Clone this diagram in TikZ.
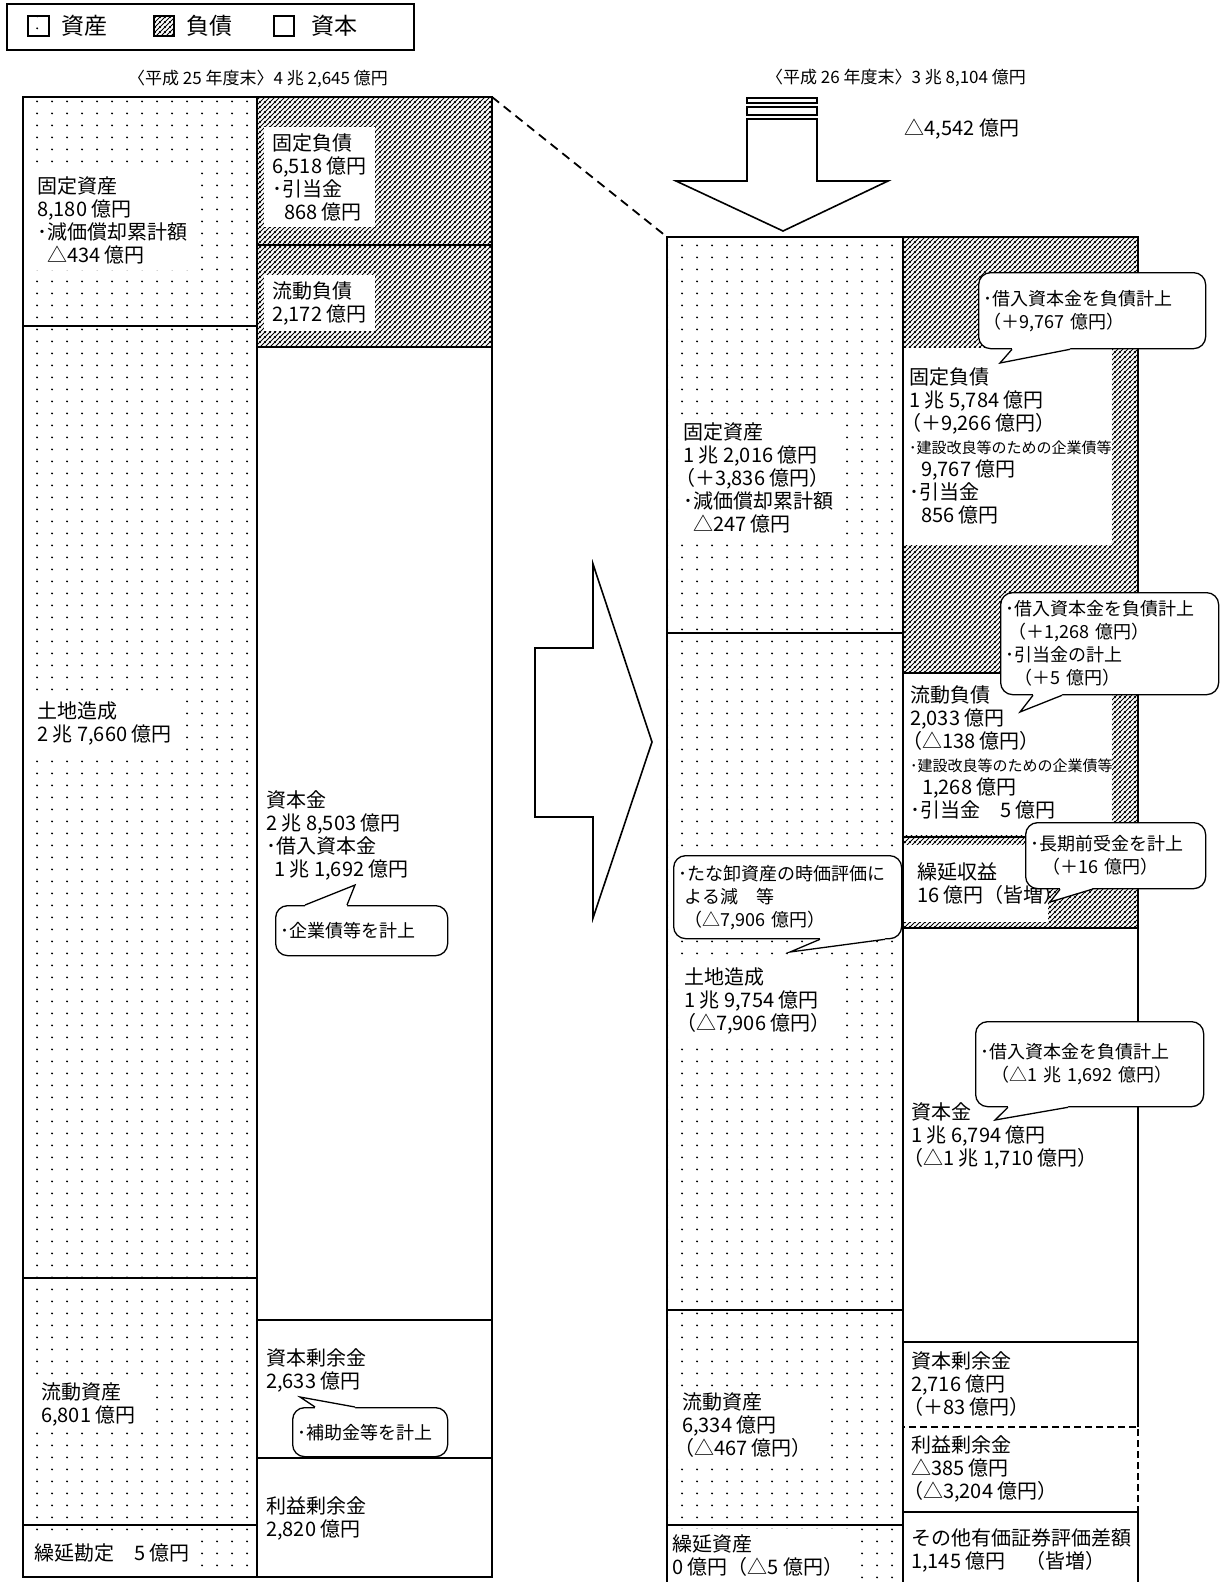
\documentclass[tikz,border=0pt]{standalone}
\usepackage{fontspec}
\setmainfont{Noto Sans CJK JP}
\usetikzlibrary{patterns.meta}

\newcommand{\smalltxt}{\fontsize{15}{23}\selectfont}
\newcommand{\parenstart}{\hspace*{-8pt}}

\tikzdeclarepattern{
  name=sparsedots,
  type=uncolored,
  bottom left={(0pt,0pt)},
  top right={(15pt,12pt)},
  tile size={(15pt,12pt)},
  code={\fill (7.5pt,6pt) circle (1.1pt);}
}
\tikzdeclarepattern{
  name=hatchlines,
  type=uncolored,
  bottom left={(0pt,0pt)},
  top right={(5pt,5pt)},
  tile size={(5pt,5pt)},
  code={
    \draw[line width=1pt] (-1pt,-1pt) -- (6pt,6pt);
    \draw[line width=1pt] (-1pt,4pt) -- (1pt,6pt);
    \draw[line width=1pt] (4pt,-1pt) -- (6pt,1pt);
  }
}

\begin{document}
\begin{tikzpicture}[
    x=1pt, y=-1pt,
    outline/.style={line width=1.6pt},
    asset/.style={pattern=sparsedots},
    debt/.style={pattern=hatchlines},
    amount/.style={fill=white, anchor=west, align=left, inner xsep=8pt, inner ysep=6pt, font=\fontsize{20}{23}\selectfont},
    amountbare/.style={amount, fill=none},
    bubble/.style={draw, line width=1.3pt, fill=white, rounded corners=12pt, anchor=north west, align=left, inner xsep=5pt, inner ysep=0pt, font=\fontsize{18}{23}\selectfont},
    heading/.style={inner sep=0pt, font=\fontsize{17}{20}\selectfont},
    legendkey/.style={draw, line width=1.4pt},
    legendtext/.style={anchor=west, inner sep=0pt, font=\fontsize{23}{26}\selectfont}
  ]
  \clip (0,0) rectangle (1221,1582);

  % Legend
  \draw[line width=1.4pt] (7,4) rectangle (414,50);
  \draw[legendkey, asset] (28,16) rectangle (49,36);
  \node[legendtext] (keyasset) at (61,26) {資産};
  \draw[legendkey, debt] (154,16) rectangle (174,36);
  \node[legendtext] (keydebt) at (186,26) {負債};
  \draw[legendkey] (274,16) rectangle (294,36);
  \node[legendtext] (keycap) at (311,26) {資本};

  % Headings
  \node[heading] (year25) at (258,79) {〈平成 25 年度末〉4 兆 2,645 億円};
  \node[heading] (year26) at (896,78) {〈平成 26 年度末〉3 兆 8,104 億円};
  \node[inner sep=0pt, font=\fontsize{20}{23}\selectfont] (change) at (962,129) {△4,542 億円};

  % Fiscal 2013 sheet
  \fill[asset] (23,97) rectangle (257,1577);
  \fill[debt] (257,97) rectangle (492,347);

  \node[amount] (oldfixed) at (29,220) {固定資産\\8,180 億円\\･減価償却累計額\\\hspace*{10pt}△434 億円};
  \node[amount] (oldland) at (29,723) {土地造成\\2 兆 7,660 億円};
  \node[amount] (oldcurrent) at (33,1404) {流動資産\\6,801 億円};
  \node[amount] (olddeferred) at (26,1553) {繰延勘定　5 億円};
  \node[amount] (oldfixdebt) at (264,177) {固定負債\\6,518 億円\\･引当金\\\hspace*{12pt}868 億円};
  \node[amount] (oldcurdebt) at (264,303) {流動負債\\2,172 億円};
  \node[amountbare] (oldcapital) at (258,835) {資本金\\2 兆 8,503 億円\\･借入資本金\\\hspace*{8pt}1 兆 1,692 億円};
  \node[amountbare] (oldsurplus) at (258,1370) {資本剰余金\\2,633 億円};
  \node[amountbare] (oldretained) at (258,1518) {利益剰余金\\2,820 億円};

  \draw[outline] (23,97) rectangle (257,326) (23,326) rectangle (257,1278)
    (23,1278) rectangle (257,1525) (23,1525) rectangle (257,1577);
  \draw[outline] (257,97) rectangle (492,245) (257,245) rectangle (492,347)
    (257,347) rectangle (492,1320) (257,1320) rectangle (492,1458)
    (257,1458) rectangle (492,1577);

  % Link between the two sheets
  \coordinate (oldtop) at (492,97);
  \coordinate (newtop) at (667,237);
  \draw[line width=1.8pt, dash pattern=on 9pt off 6pt] (oldtop) -- (newtop);

  % Arrows
  \draw[line width=1.4pt] (747,98) rectangle (817,103) (747,107) rectangle (817,115);
  \draw[outline, fill=white] (747,119) -- (817,119) -- (817,181) -- (888,181)
    -- (783,231) -- (676,181) -- (747,181) -- cycle;
  \draw[outline, fill=white] (535,648) -- (593,648) -- (593,564) -- (652,742)
    -- (593,918) -- (593,817) -- (535,817) -- cycle;

  % Fiscal 2014 sheet
  \fill[asset] (667,237) rectangle (903,1600);
  \fill[debt] (903,237) rectangle (1138,928);
  \fill[white] (903,348) rectangle (1112,545);
  \fill[white] (903,673) rectangle (1112,835);
  \fill[white] (903,845) rectangle (1048,922);

  \node[amount] (newfixed) at (675,478) {固定資産\\1 兆 2,016 億円\\\parenstart（＋3,836 億円）\\･減価償却累計額\\\hspace*{10pt}△247 億円};
  \node[amount] (newland) at (676,1001) {土地造成\\1 兆 9,754 億円\\\parenstart（△7,906 億円）};
  \node[amount] (newcurrent) at (674,1425) {流動資産\\6,334 億円\\\parenstart（△467 億円）};
  \node[amount] (newdeferred) at (664,1556) {繰延資産\\0 億円（△5 億円）};
  \node[amountbare] (newfixdebt) at (901,446) {固定負債\\1 兆 5,784 億円\\\parenstart（＋9,266 億円）\\{\smalltxt ･建設改良等のための企業債等}\\\hspace*{12pt}9,767 億円\\･引当金\\\hspace*{12pt}856 億円};
  \node[amountbare] (newcurdebt) at (902,752) {流動負債\\2,033 億円\\\parenstart（△138 億円）\\{\smalltxt ･建設改良等のための企業債等}\\\hspace*{12pt}1,268 億円\\･引当金　5 億円};
  \node[amountbare] (newincome) at (909,884) {繰延収益\\16 億円（皆増）};
  \node[amountbare] (newcapital) at (903,1136) {資本金\\1 兆 6,794 億円\\\parenstart（△1 兆 1,710 億円）};
  \node[amountbare] (newsurplus) at (903,1384) {資本剰余金\\2,716 億円\\\parenstart（＋83 億円）};
  \node[amountbare] (newretained) at (903,1469) {利益剰余金\\△385 億円\\\parenstart（△3,204 億円）};
  \node[amountbare] (newother) at (903,1550) {その他有価証券評価差額\\1,145 億円　（皆増）};

  \draw[outline] (667,237) rectangle (903,633) (667,633) rectangle (903,1310)
    (667,1310) rectangle (903,1525) (667,1525) rectangle (903,1600);
  \draw[outline] (903,237) rectangle (1138,673) (903,673) rectangle (1138,837)
    (903,837) rectangle (1138,928) (903,928) rectangle (1138,1342);
  \draw[outline] (903,1342) -- (903,1427) (1138,1342) -- (1138,1427);
  \draw[outline, dash pattern=on 7pt off 4pt] (903,1427) rectangle (1138,1512);
  \draw[outline] (903,1512) rectangle (1138,1600);

  % Callouts
  \node[bubble, text width=162pt, minimum height=50pt] (noteold1) at (275,905) {･企業債等を計上};
  \coordinate (tipold1) at (355,885);
  \fill[white] ([xshift=30pt,yshift=-2pt]noteold1.north west) -- ([xshift=30pt]noteold1.north west) -- (tipold1) -- ([xshift=72pt]noteold1.north west) -- ([xshift=72pt,yshift=-2pt]noteold1.north west) -- cycle;
  \draw[line width=1.3pt] ([xshift=30pt]noteold1.north west) -- (tipold1) -- ([xshift=72pt]noteold1.north west);

  \node[bubble, text width=145pt, minimum height=49pt] (noteold2) at (292,1407) {･補助金等を計上};
  \coordinate (tipold2) at (300,1397);
  \fill[white] ([xshift=23pt,yshift=-2pt]noteold2.north west) -- ([xshift=23pt]noteold2.north west) -- (tipold2) -- ([xshift=63pt]noteold2.north west) -- ([xshift=63pt,yshift=-2pt]noteold2.north west) -- cycle;
  \draw[line width=1.3pt] ([xshift=23pt]noteold2.north west) -- (tipold2) -- ([xshift=63pt]noteold2.north west);

  \node[bubble, text width=218pt, minimum height=83pt] (noteland) at (673,855) {･たな卸資産の時価評価に\\\hspace*{6pt}よる減　等\\\hspace*{6pt}（△7,906 億円）};
  \coordinate (tipland) at (790,952);
  \fill[white] ([xshift=147pt,yshift=2pt]noteland.south west) -- ([xshift=147pt]noteland.south west) -- (tipland) -- ([xshift=212pt]noteland.south west) -- ([xshift=212pt,yshift=2pt]noteland.south west) -- cycle;
  \draw[line width=1.3pt] ([xshift=147pt]noteland.south west) -- (tipland) -- ([xshift=212pt]noteland.south west);

  \node[bubble, text width=217pt, minimum height=76pt] (notefix) at (978,272) {･借入資本金を負債計上\\（＋9,767 億円）};
  \coordinate (tipfix) at (1000,363);
  \fill[white] ([xshift=34pt,yshift=2pt]notefix.south west) -- ([xshift=34pt]notefix.south west) -- (tipfix) -- ([xshift=92pt]notefix.south west) -- ([xshift=92pt,yshift=2pt]notefix.south west) -- cycle;
  \draw[line width=1.3pt] ([xshift=34pt]notefix.south west) -- (tipfix) -- ([xshift=92pt]notefix.south west);

  \node[bubble, text width=208pt, minimum height=102pt] (notecur) at (1000,592) {･借入資本金を負債計上\\\hspace*{3pt}（＋1,268 億円）\\･引当金の計上\\\hspace*{9pt}（＋5 億円）};
  \coordinate (tipcur) at (1020,712);
  \fill[white] ([xshift=33pt,yshift=2pt]notecur.south west) -- ([xshift=33pt]notecur.south west) -- (tipcur) -- ([xshift=62pt]notecur.south west) -- ([xshift=62pt,yshift=2pt]notecur.south west) -- cycle;
  \draw[line width=1.3pt] ([xshift=33pt]notecur.south west) -- (tipcur) -- ([xshift=62pt]notecur.south west);

  \node[bubble, text width=170pt, minimum height=66pt] (noteincome) at (1025,822) {･長期前受金を計上\\\hspace*{12pt}（＋16 億円）};
  \coordinate (tipincome) at (1050,902);
  \fill[white] ([xshift=35pt,yshift=2pt]noteincome.south west) -- ([xshift=35pt]noteincome.south west) -- (tipincome) -- ([xshift=67pt]noteincome.south west) -- ([xshift=67pt,yshift=2pt]noteincome.south west) -- cycle;
  \draw[line width=1.3pt] ([xshift=35pt]noteincome.south west) -- (tipincome) -- ([xshift=67pt]noteincome.south west);

  \node[bubble, text width=218pt, minimum height=85pt] (notecap) at (975,1021) {･借入資本金を負債計上\\\hspace*{11pt}（△1 兆 1,692 億円）};
  \coordinate (tipcap) at (995,1120);
  \fill[white] ([xshift=33pt,yshift=2pt]notecap.south west) -- ([xshift=33pt]notecap.south west) -- (tipcap) -- ([xshift=93pt]notecap.south west) -- ([xshift=93pt,yshift=2pt]notecap.south west) -- cycle;
  \draw[line width=1.3pt] ([xshift=33pt]notecap.south west) -- (tipcap) -- ([xshift=93pt]notecap.south west);
\end{tikzpicture}
\end{document}
